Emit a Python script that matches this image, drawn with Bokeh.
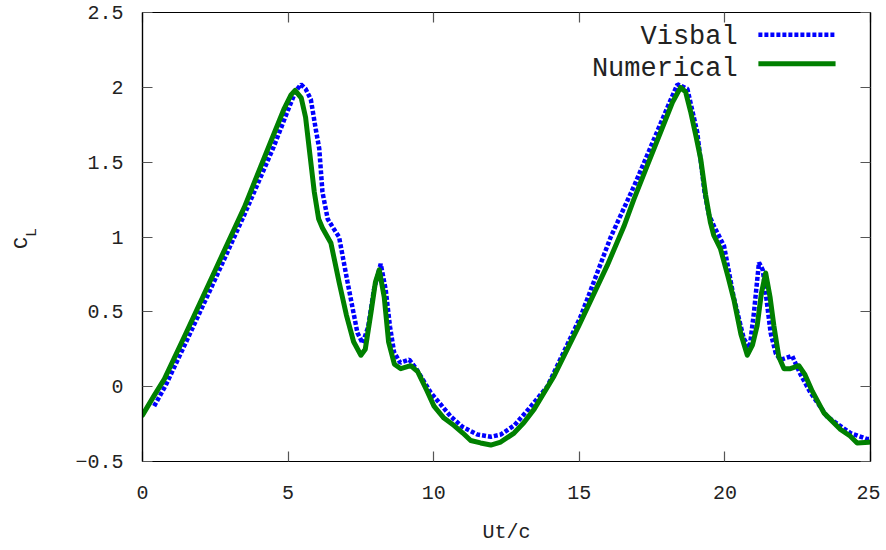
import numpy as np
from bokeh.plotting import figure
from bokeh.models import LinearAxis, Label, Arrow, FixedTicker, Range1d
from bokeh.embed import file_html
from bokeh.resources import INLINE

# ---- data ----
visbal_x = [0.4, 0.8, 1.5, 2.5, 3.5, 4.5, 5.0, 5.25, 5.44, 5.6, 5.78, 5.95, 6.07, 6.18,
            6.36, 6.55, 6.75, 7.04, 7.38, 7.56, 7.75, 7.95, 8.18, 8.35, 8.5, 8.64, 8.85,
            9.16, 9.4, 9.9, 10.59, 11.0, 11.5, 11.96, 12.3, 12.76, 13.3, 13.9, 15.05,
            16.08, 16.88, 17.6, 18.1, 18.37, 18.71, 19.05, 19.3, 19.45, 19.62, 19.97,
            20.3, 20.65, 20.85, 21.0, 21.17, 21.3, 21.45, 21.57, 21.75, 21.91, 22.31,
            22.6, 22.94, 23.51, 24.31, 24.89, 25.0]
visbal_y = [-0.13, 0.01, 0.30, 0.72, 1.15, 1.60, 1.85, 1.97, 2.02, 1.99, 1.92, 1.72, 1.59, 1.30,
            1.12, 1.06, 1.00, 0.70, 0.36, 0.29, 0.40, 0.65, 0.82, 0.65, 0.40, 0.23, 0.16,
            0.18, 0.12, -0.04, -0.20, -0.27, -0.32, -0.335, -0.32, -0.26, -0.14, 0.00, 0.47,
            1.00, 1.34, 1.67, 1.90, 2.02, 1.99, 1.70, 1.30, 1.15, 1.075, 0.94,
            0.60, 0.32, 0.26, 0.50, 0.83, 0.78, 0.55, 0.36, 0.22, 0.18, 0.205,
            0.08, -0.04, -0.20, -0.31, -0.35, -0.35]

num_x = [0.0, 0.4, 0.75, 1.5, 2.5, 3.5, 4.41, 4.87, 5.1, 5.24, 5.45, 5.6, 5.75, 5.9, 6.05,
         6.18, 6.47, 6.75, 7.0, 7.25, 7.5, 7.65, 7.85, 8.0, 8.13, 8.3, 8.45, 8.65, 8.87,
         9.21, 9.45, 9.75, 10.01, 10.35, 10.7, 11.0, 11.27, 11.61, 11.96, 12.3, 12.76,
         13.1, 13.45, 14.13, 14.99, 15.96, 16.53, 16.87, 17.34, 17.79, 18.2, 18.48, 18.65,
         18.82, 19.0, 19.17, 19.34, 19.5, 19.62, 19.85, 20.1, 20.31, 20.55, 20.77, 20.95,
         21.11, 21.25, 21.4, 21.55, 21.68, 21.85, 22.03, 22.25, 22.54, 22.75, 23.0, 23.4,
         23.97, 24.3, 24.54, 24.94, 25.0]
num_y = [-0.19, -0.06, 0.05, 0.36, 0.78, 1.20, 1.64, 1.86, 1.95, 1.98, 1.93, 1.80, 1.55, 1.30, 1.12,
         1.06, 0.96, 0.70, 0.48, 0.30, 0.21, 0.25, 0.50, 0.70, 0.78, 0.60, 0.30, 0.15, 0.12,
         0.14, 0.10, -0.02, -0.13, -0.21, -0.26, -0.31, -0.36, -0.376, -0.39, -0.37, -0.31,
         -0.24, -0.15, 0.07, 0.41, 0.81, 1.07, 1.25, 1.48, 1.70, 1.90, 2.00, 1.97,
         1.84, 1.68, 1.52, 1.28, 1.10, 1.01, 0.92, 0.74, 0.58, 0.35, 0.21, 0.28,
         0.41, 0.62, 0.76, 0.60, 0.41, 0.20, 0.12, 0.12, 0.14, 0.08, -0.03, -0.175,
         -0.286, -0.33, -0.376, -0.371, -0.37]

x_ticks = [0, 5, 10, 15, 20, 25]
x_tick_labels = ["0", "5", "10", "15", "20", "25"]
y_ticks = [-0.5, 0, 0.5, 1, 1.5, 2, 2.5]
y_tick_labels = ["\u22120.5", "0", "0.5", "1", "1.5", "2", "2.5"]

FONT = "Liberation Mono"

p = figure(width=880, height=546, x_range=Range1d(0, 25), y_range=Range1d(-0.5, 2.5),
           output_backend="svg", toolbar_location=None,
           min_border_left=142, min_border_right=10, min_border_top=12, min_border_bottom=84)
p.xgrid.visible = False
p.ygrid.visible = False
p.outline_line_color = "black"
p.outline_line_width = 1.2
p.background_fill_color = "white"
p.border_fill_color = "white"

def style_axis(ax, ticks, labels, show_labels):
    ax.ticker = FixedTicker(ticks=ticks)
    ax.major_tick_in = 10
    ax.major_tick_out = 0
    ax.minor_tick_in = 0
    ax.minor_tick_out = 0
    ax.major_tick_line_color = "#555555"
    ax.major_tick_line_width = 1.2
    ax.axis_line_color = "black"
    ax.axis_line_width = 1.2
    ax.major_label_text_font = FONT
    if show_labels:
        ax.major_label_overrides = {t: l for t, l in zip(ticks, labels)}
        ax.major_label_text_font_size = "20px"
        ax.major_label_text_color = "#222222"
    else:
        ax.major_label_text_color = None
        ax.major_label_text_font_size = "1px"
        ax.major_label_standoff = 0

style_axis(p.xaxis[0], x_ticks, x_tick_labels, True)
style_axis(p.yaxis[0], y_ticks, y_tick_labels, True)
p.xaxis[0].major_label_standoff = 24
p.yaxis[0].major_label_standoff = 19
p.xaxis[0].axis_label = "Ut/c"
p.xaxis[0].axis_label_text_font = FONT
p.xaxis[0].axis_label_text_font_size = "20px"
p.xaxis[0].axis_label_text_font_style = "normal"
p.xaxis[0].axis_label_text_color = "#222222"
p.xaxis[0].axis_label_standoff = 19

ax_top = LinearAxis()
style_axis(ax_top, x_ticks, x_tick_labels, False)
p.add_layout(ax_top, "above")
ax_right = LinearAxis()
style_axis(ax_right, y_ticks, y_tick_labels, False)
p.add_layout(ax_right, "right")

# y-axis label C_L: "C" and the subscript "L" carried by two tick-less axes on the left
def label_axis(text, size, standoff):
    ax = LinearAxis(ticker=FixedTicker(ticks=[]), axis_label=text)
    ax.axis_line_color = None
    ax.major_tick_line_color = None
    ax.minor_tick_line_color = None
    ax.major_tick_in = 0
    ax.major_tick_out = 0
    ax.minor_tick_in = 0
    ax.minor_tick_out = 0
    ax.major_label_text_color = None
    ax.major_label_text_font_size = "1px"
    ax.major_label_standoff = 0
    ax.axis_label_standoff = standoff
    ax.axis_label_text_font = FONT
    ax.axis_label_text_font_size = size
    ax.axis_label_text_font_style = "normal"
    ax.axis_label_text_color = "#222222"
    return ax

p.add_layout(label_axis("\u00a0L", "15px", 32), "left")
p.add_layout(label_axis("C\u00a0", "20px", -12), "left")

# curves
p.line(visbal_x, visbal_y, line_color="#0000ff", line_width=4.5, line_dash="4 2")
p.line(num_x, num_y, line_color="#008000", line_width=5, line_join="round", line_cap="round")

# legend (label right-aligned, sample line to its right)
p.add_layout(Label(x=20.44, y=2.333, text="Visbal", text_align="right", text_baseline="middle",
                   text_font=FONT, text_font_size="27px", text_color="#222222"))
p.add_layout(Label(x=20.44, y=2.125, text="Numerical", text_align="right", text_baseline="middle",
                   text_font=FONT, text_font_size="27px", text_color="#222222"))
p.add_layout(Arrow(x_start=21.15, y_start=2.352, x_end=23.80, y_end=2.352, start=None, end=None,
                   line_color="#0000ff", line_width=4.5, line_dash="4 2"))
p.add_layout(Arrow(x_start=21.15, y_start=2.158, x_end=23.80, y_end=2.158, start=None, end=None,
                   line_color="#008000", line_width=5))

open("out.html", "w").write(file_html(p, INLINE))
